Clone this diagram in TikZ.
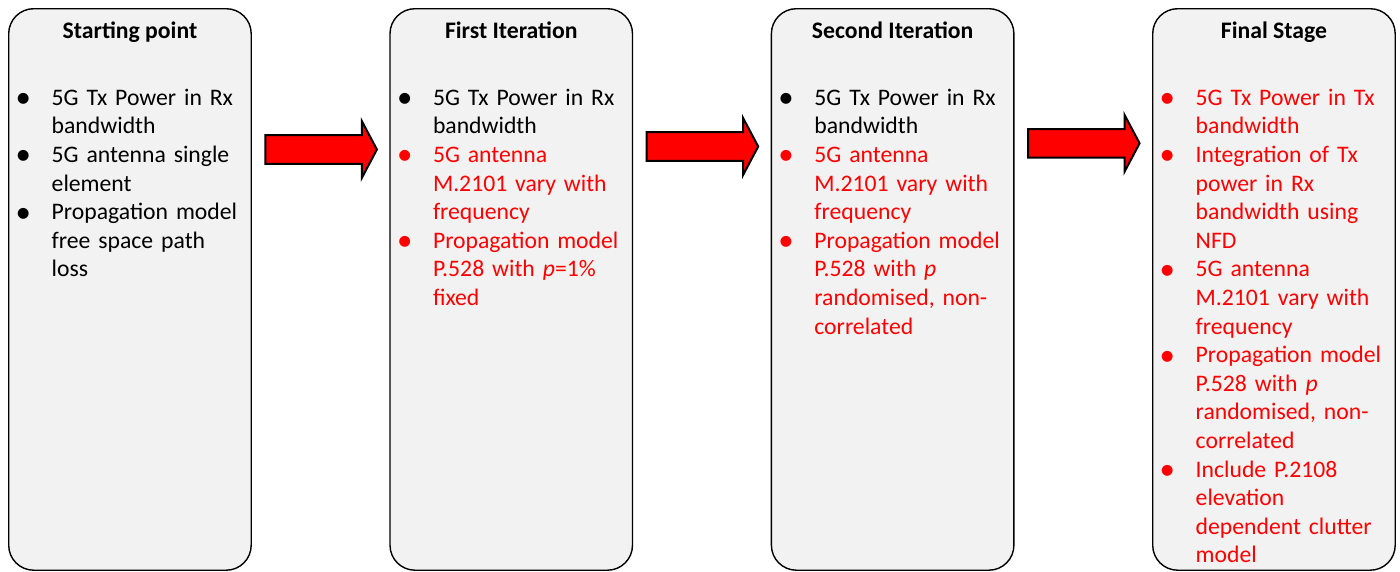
\documentclass[tikz,border=0pt]{standalone}
\usepackage{fontspec}
\usepackage{graphicx}
\setmainfont{Carlito}
\usetikzlibrary{positioning}
\definecolor{boxgray}{HTML}{F2F2F2}
\tikzset{
  stage/.style={draw=black, line width=1.4pt, fill=boxgray, rounded corners=25pt,
    minimum width=242.5pt, minimum height=561.5pt, anchor=north west, inner sep=0pt},
  stagetitle/.style={font=\fontsize{23.7pt}{28.6pt}\selectfont\bfseries, anchor=base, inner sep=0pt},
  itemlist/.style={anchor=north west, inner sep=0pt, text width=232pt},
  blockarrow/.style={draw=black, line width=2pt, fill=red, line join=miter}
}
\newcommand{\bitem}[2][black]{\par\hangindent=36pt\hangafter=1\noindent
  \makebox[36pt][l]{\color{#1}\raisebox{-2.3pt}{\scalebox{1.3}{\textbullet}}}%
  {\color{#1}\strut #2}\par}
\begin{document}
\begin{tikzpicture}[x=1pt, y=1pt, font=\fontsize{23.7pt}{28.6pt}\selectfont]
  \useasboundingbox (0,0) rectangle (1400,-571);
  % stage boxes
  \node[stage] (start)  at (8,-8) {};
  \node[stage] (first)  at (389.3,-8) {};
  \node[stage] (second) at (770.7,-8) {};
  \node[stage] (final)  at (1152,-8) {};
  % titles
  \foreach \n/\t in {start/Starting point, first/First Iteration, second/Second Iteration, final/Final Stage}
    \node[stagetitle] (\n-title) at ([yshift=-30pt]\n.north) {\t};
  % bullet lists
  \node[itemlist] (start-list) at ([xshift=7.5pt,yshift=-68.5pt]start.north west) {%
    \bitem{5G Tx Power in Rx\newline bandwidth}
    \bitem{5G antenna single\newline element}
    \bitem{Propagation model\newline free space path\newline loss}};
  \node[itemlist] (first-list) at ([xshift=7.5pt,yshift=-68.5pt]first.north west) {%
    \bitem{5G Tx Power in Rx\newline bandwidth}
    \bitem[red]{5G antenna\newline M.2101 vary with\newline frequency}
    \bitem[red]{Propagation model\newline P.528 with \textit{p}=1\%\newline fixed}};
  \node[itemlist] (second-list) at ([xshift=7.5pt,yshift=-68.5pt]second.north west) {%
    \bitem{5G Tx Power in Rx\newline bandwidth}
    \bitem[red]{5G antenna\newline M.2101 vary with\newline frequency}
    \bitem[red]{Propagation model\newline P.528 with \textit{p}\newline randomised, non-\newline correlated}};
  \node[itemlist] (final-list) at ([xshift=7.5pt,yshift=-68.5pt]final.north west) {%
    \bitem[red]{5G Tx Power in Tx\newline bandwidth}
    \bitem[red]{Integration of Tx\newline power in Rx\newline bandwidth using\newline NFD}
    \bitem[red]{5G antenna\newline M.2101 vary with\newline frequency}
    \bitem[red]{Propagation model\newline P.528 with \textit{p}\newline randomised, non-\newline correlated}
    \bitem[red]{Include P.2108\newline elevation\newline dependent clutter\newline model}};
  % block arrows between stages
  \foreach \a/\dy in {start/-141.5, first/-138.5, second/-135.3} {
    \coordinate (\a-out) at ([xshift=13.5pt,yshift=\dy pt]\a.north east);
    \draw[blockarrow] (\a-out) ++(0,14.3) -- ++(96.5,0) -- ++(0,14) -- ++(15,-28.3)
      -- ++(-15,-28.3) -- ++(0,14) -- ++(-96.5,0) -- cycle;
  }
\end{tikzpicture}
\end{document}
